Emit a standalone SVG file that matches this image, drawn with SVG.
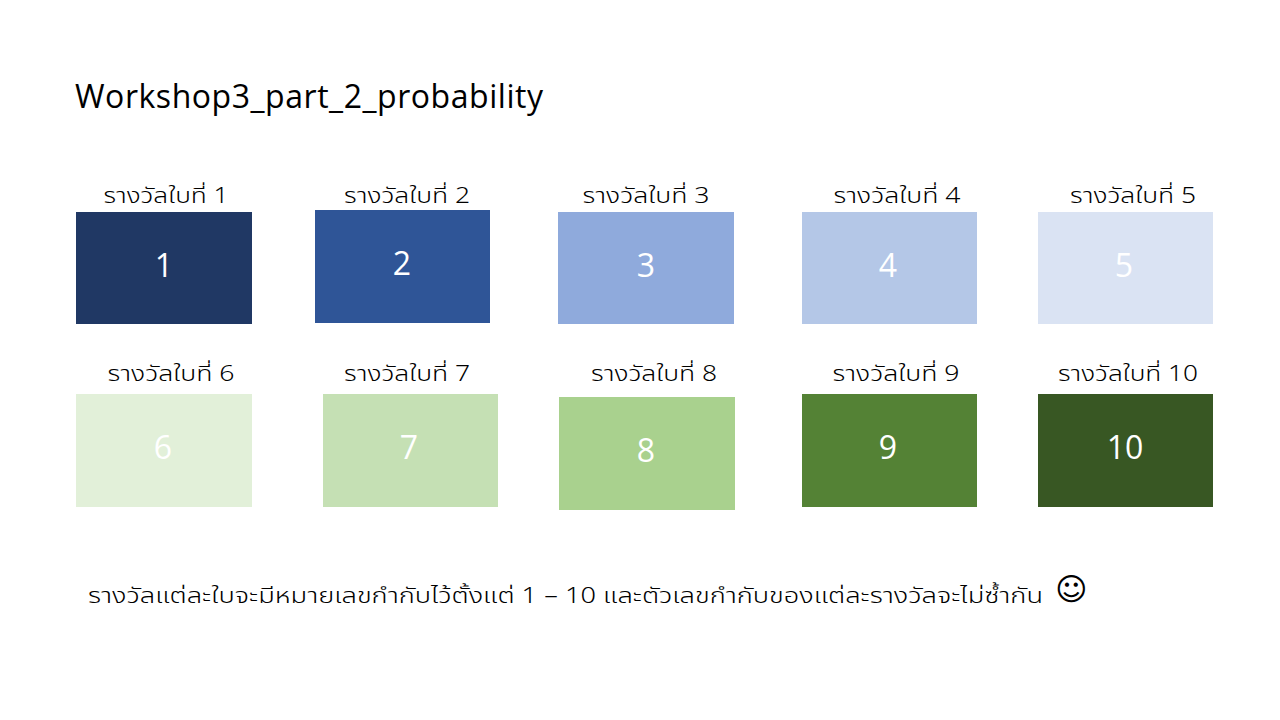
<svg xmlns="http://www.w3.org/2000/svg" width="1280" height="720" viewBox="0 0 1280 720">
<style>
.lbl{font-family:"Noto Sans Thai","Tahoma","Liberation Sans","DejaVu Sans",sans-serif;font-size:21px;font-weight:300;fill:#000;text-anchor:middle}
.num{font-family:"Open Sans","Liberation Sans",sans-serif;font-size:32px;fill:#fff;text-anchor:middle}
.title{font-family:"Open Sans","Liberation Sans",sans-serif;font-size:32px;fill:#000}
.note{font-family:"Noto Sans Thai","Tahoma","Liberation Sans","DejaVu Sans",sans-serif;font-size:21px;font-weight:300;fill:#000}
</style>
<rect width="1280" height="720" fill="#fff"/>
<text class="title" x="75" y="108" textLength="468">Workshop3_part_2_probability</text>

<g id="prize1"><text class="lbl" x="166" y="203" textLength="125" lengthAdjust="spacingAndGlyphs">รางวัลใบที่ 1</text><rect x="76" y="212" width="176" height="112" fill="#203864"/><text class="num" x="164" y="277">1</text></g>
<g id="prize2"><text class="lbl" x="407" y="203" textLength="126" lengthAdjust="spacingAndGlyphs">รางวัลใบที่ 2</text><rect x="315" y="210" width="175" height="113" fill="#2F5597"/><text class="num" x="402" y="275">2</text></g>
<g id="prize3"><text class="lbl" x="646" y="203" textLength="127" lengthAdjust="spacingAndGlyphs">รางวัลใบที่ 3</text><rect x="558" y="212" width="176" height="112" fill="#8FAADC"/><text class="num" x="646" y="277">3</text></g>
<g id="prize4"><text class="lbl" x="897" y="203" textLength="127" lengthAdjust="spacingAndGlyphs">รางวัลใบที่ 4</text><rect x="802" y="212" width="175" height="112" fill="#B4C7E7"/><text class="num" x="888" y="277">4</text></g>
<g id="prize5"><text class="lbl" x="1133" y="203" textLength="126" lengthAdjust="spacingAndGlyphs">รางวัลใบที่ 5</text><rect x="1038" y="212" width="175" height="112" fill="#DAE3F3"/><text class="num" x="1124" y="277">5</text></g>

<g id="prize6"><text class="lbl" x="171" y="381" textLength="127" lengthAdjust="spacingAndGlyphs">รางวัลใบที่ 6</text><rect x="76" y="394" width="176" height="113" fill="#E2F0D9"/><text class="num" x="163" y="459">6</text></g>
<g id="prize7"><text class="lbl" x="407" y="381" textLength="126" lengthAdjust="spacingAndGlyphs">รางวัลใบที่ 7</text><rect x="323" y="394" width="175" height="113" fill="#C5E0B4"/><text class="num" x="409" y="459">7</text></g>
<g id="prize8"><text class="lbl" x="654" y="381" textLength="126" lengthAdjust="spacingAndGlyphs">รางวัลใบที่ 8</text><rect x="559" y="397" width="176" height="113" fill="#A9D18E"/><text class="num" x="646" y="462">8</text></g>
<g id="prize9"><text class="lbl" x="896" y="381" textLength="127" lengthAdjust="spacingAndGlyphs">รางวัลใบที่ 9</text><rect x="802" y="394" width="175" height="113" fill="#548235"/><text class="num" x="888" y="459">9</text></g>
<g id="prize10"><text class="lbl" x="1128" y="381" textLength="140" lengthAdjust="spacingAndGlyphs">รางวัลใบที่ 10</text><rect x="1038" y="394" width="175" height="113" fill="#385723"/><text class="num" x="1125" y="459">10</text></g>

<g id="connectors"></g>

<text class="note" x="88" y="603" textLength="955" lengthAdjust="spacingAndGlyphs">รางวัลแต่ละใบจะมีหมายเลขกำกับไว้ตั้งแต่ 1 – 10 และตัวเลขกำกับของแต่ละรางวัลจะไม่ซ้ำกัน</text>
<text x="1055" y="600" style="font-family:'DejaVu Sans',sans-serif;font-size:31px;fill:#000">☺</text>
</svg>
